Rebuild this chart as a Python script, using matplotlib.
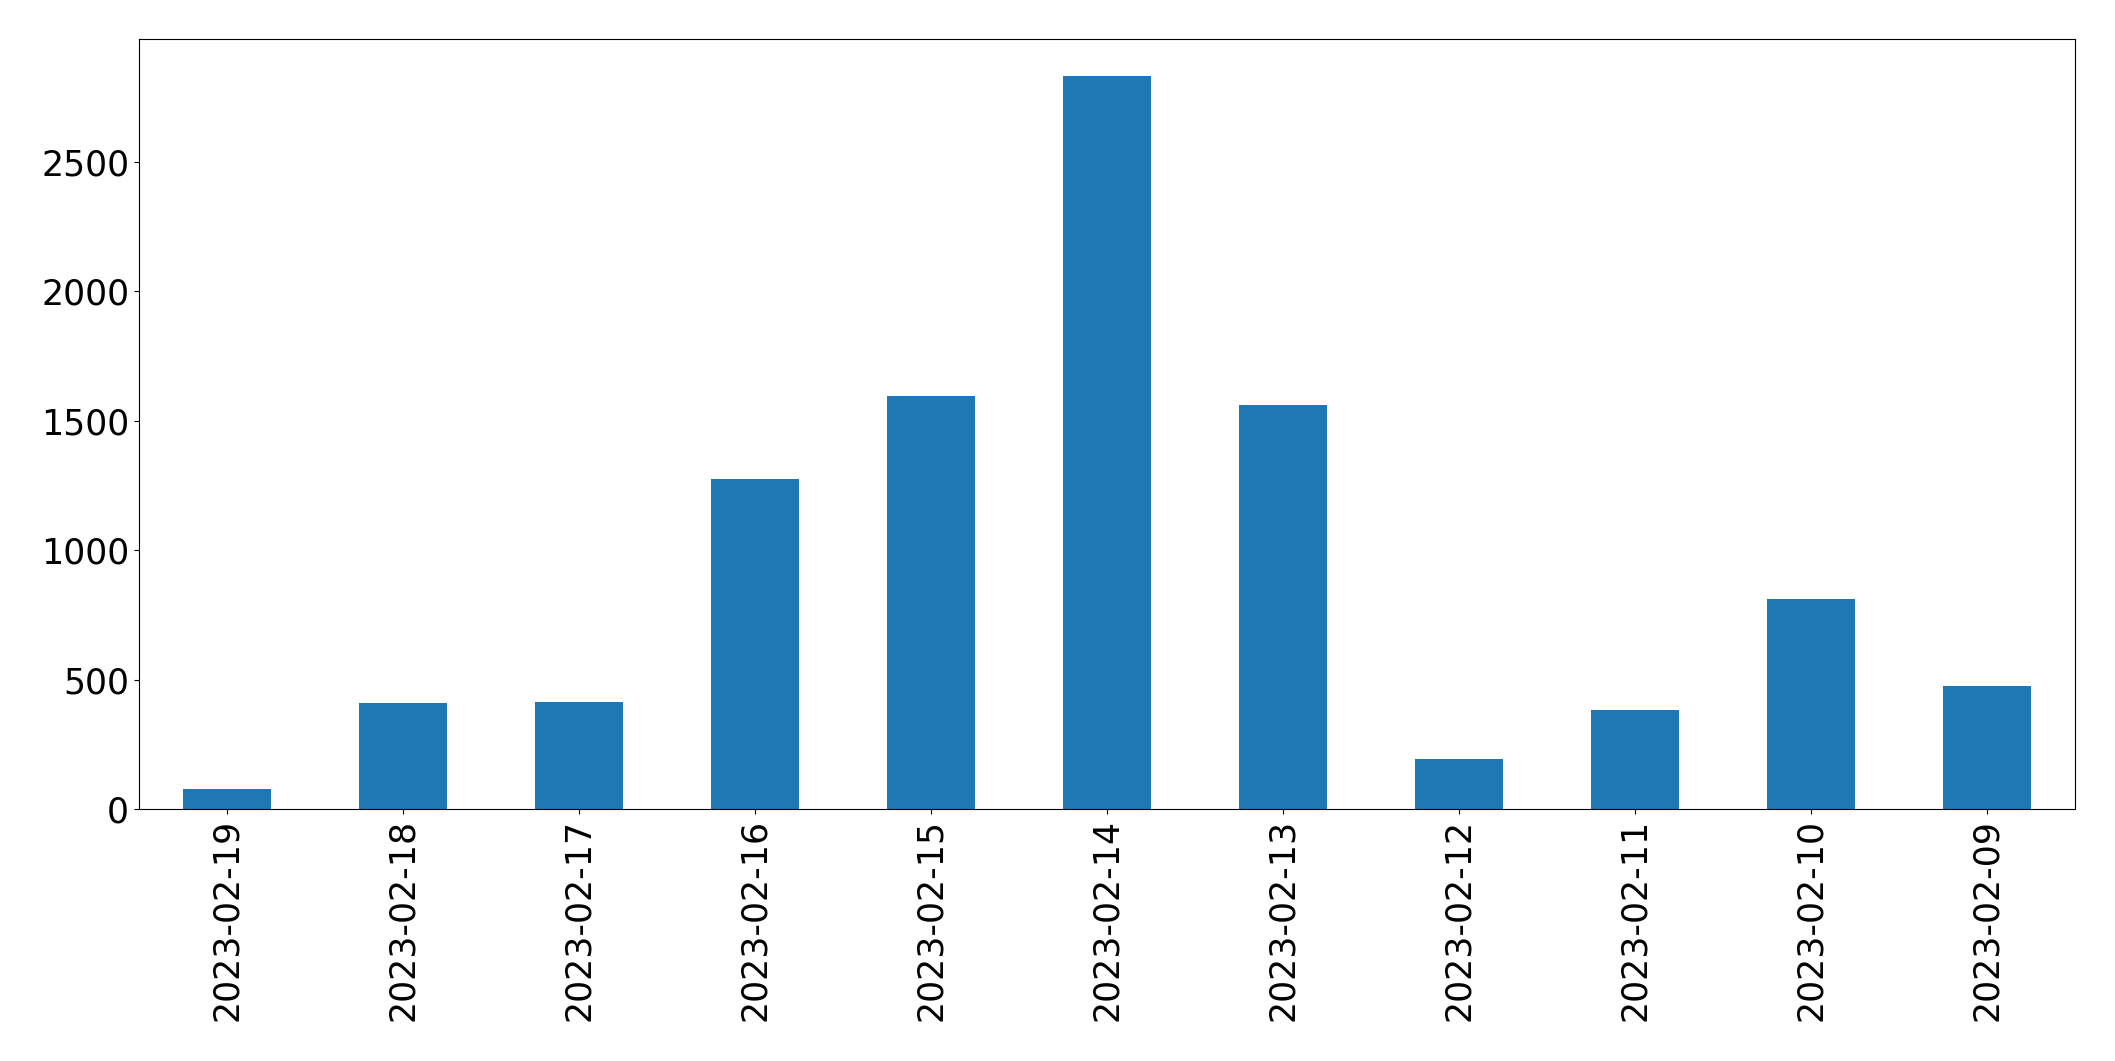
import matplotlib
matplotlib.use("Agg")
import matplotlib.pyplot as plt

# daily counts, newest first (as in the reference)
dates = ["2023-02-19", "2023-02-18", "2023-02-17", "2023-02-16", "2023-02-15",
         "2023-02-14", "2023-02-13", "2023-02-12", "2023-02-11", "2023-02-10",
         "2023-02-09"]
counts = [77, 408, 412, 1274, 1596, 2832, 1560, 193, 383, 811, 475]

fig, ax = plt.subplots(figsize=(21.15, 10.61), dpi=100)
fig.subplots_adjust(left=0.0657, right=0.981, top=0.963, bottom=0.2375)

x = list(range(len(dates)))
ax.bar(x, counts, width=0.5, color="#1f77b4")
ax.set_xlim(-0.5, len(dates) - 0.5)
ax.set_xticks(x)
ax.set_xticklabels(dates, rotation=90)
ax.tick_params(axis="both", which="major", labelsize=25)

fig.savefig("out.png", dpi=100)
